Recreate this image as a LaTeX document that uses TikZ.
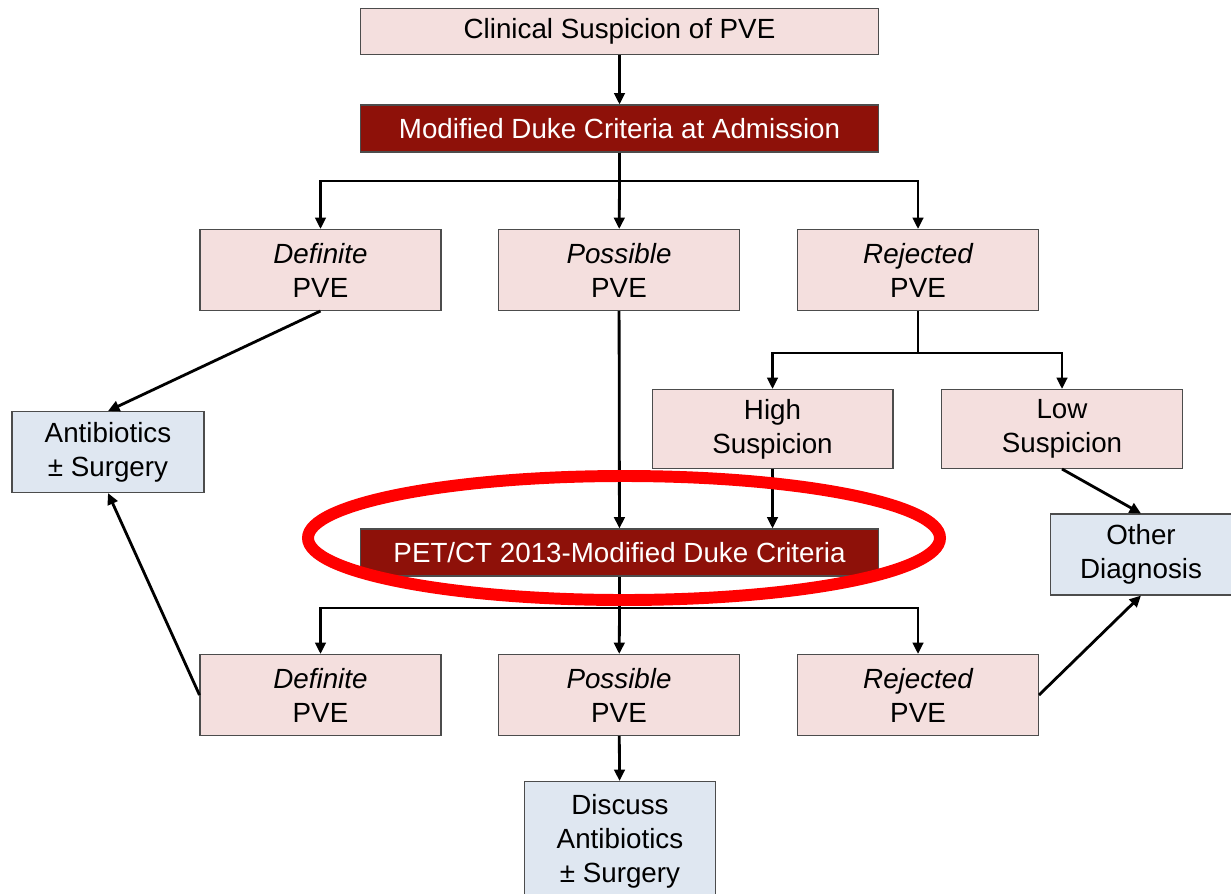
\documentclass[tikz,border=0pt]{standalone}
\usepackage{fontspec}
\setmainfont{Liberation Sans}
\usepackage{tikz}
\usetikzlibrary{positioning,arrows.meta,calc}
\definecolor{boxpink}{HTML}{F4DFDE}
\definecolor{dukered}{HTML}{8E1109}
\definecolor{boxblue}{HTML}{DFE7F1}
\definecolor{ringred}{HTML}{FF0000}

\begin{document}
\begin{tikzpicture}[x=0.02cm,y=-0.02cm,
 txt/.style={font=\fontsize{15.8pt}{19.3pt}\selectfont,align=center,inner sep=0pt},
 stepbox/.style={txt,rectangle,draw=black!70,line width=0.6pt,fill=boxpink},
 headbox/.style={stepbox,fill=dukered,text=white,minimum width=10.38cm,minimum height=0.94cm},
 wide/.style={stepbox,minimum width=10.38cm,minimum height=0.92cm},
 cls/.style={stepbox,minimum width=4.82cm,minimum height=1.62cm},
 outcome/.style={stepbox,fill=boxblue,minimum height=1.62cm},
 arr/.style={-{Triangle[length=6.5pt,width=6pt]},line width=1.6pt,black},
 ring/.style={draw=ringred,line width=6.8pt}]

\useasboundingbox (0,0) rectangle (1231,893);
\clip (0,0) rectangle (1231,893);

% Admission work-up
\node[wide] (clin) at (619.5,31.5) {Clinical Suspicion of PVE};
\node[headbox] (duke) at (619.5,128.5) {Modified Duke Criteria at Admission};
\node[cls] (defA) at (320.5,270) {\itshape Definite\\PVE};
\node[cls] (posA) at (619,270) {\itshape Possible\\PVE};
\node[cls] (rejA) at (918,270) {\itshape Rejected\\PVE};
\node[outcome,minimum width=3.84cm] (anti) at (108,452) {Antibiotics\\± Surgery};
\node[cls,minimum height=1.58cm] (high) at (772.5,429) {High\\Suspicion};
\node[cls,minimum height=1.58cm] (low) at (1062,429) {Low\\Suspicion};
\node[outcome,minimum width=3.62cm] (other) at (1141,554.5) {Other\\Diagnosis};

% PET/CT re-classification
\node[headbox] (pet) at (619.5,552.5) {PET/CT 2013-Modified Duke Criteria};
\node[cls] (defB) at (320.5,695) {\itshape Definite\\PVE};
\node[cls] (posB) at (619,695) {\itshape Possible\\PVE};
\node[cls] (rejB) at (918,695) {\itshape Rejected\\PVE};
\node[outcome,minimum width=3.82cm,minimum height=2.4cm] (disc) at (620,841.5) {Discuss\\Antibiotics\\± Surgery};

% branch levels
\coordinate (splitA) at (619.5,181);
\coordinate (splitR) at (918,353);
\coordinate (splitB) at (619.5,608);

\draw[arr] (clin) -- (duke);
\draw[arr] (duke.south) -- (splitA) -| (defA);
\draw[arr] (splitA) -| (rejA);
\draw[arr] (splitA) -- (posA);
\draw[arr] (defA.south) -- (anti.north);
\draw[arr] (posA) -- (pet);
\draw[arr] (rejA.south) -- (splitR) -| (high);
\draw[arr] (splitR) -| (low);
\draw[arr] (high.south) -- (high.south |- pet.north);
\draw[arr] (low.south) -- (other.north);
\draw[arr] (pet.south) -- (splitB) -| (defB);
\draw[arr] (splitB) -| (rejB);
\draw[arr] (splitB) -- (posB);
\draw[arr] (defB.west) -- (anti.south);
\draw[arr] (rejB.east) -- (other.south);
\draw[arr] (posB) -- (disc);

% highlight ring round the PET/CT step
\draw[ring] (624,538) ellipse [x radius=316, y radius=62];
\end{tikzpicture}
\end{document}
